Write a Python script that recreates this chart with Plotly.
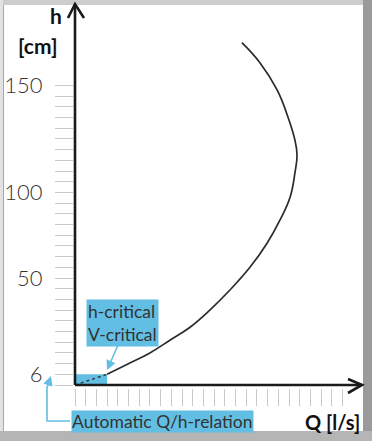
import plotly.graph_objects as go

# ---- data (grid units: one tick step per unit) ----
Q_curve = [3.0, 4.9, 7.0, 8.9, 10.75, 12.6, 14.5, 16.35, 17.95, 19.15, 20.1, 20.55,
           20.75, 20.55, 19.9, 18.9, 17.3, 15.6]
h_curve = [1.0, 1.95, 3.0, 4.2, 5.4, 7.0, 8.9, 11.0, 13.25, 15.4, 17.55, 19.8,
           21.5, 22.9, 25.05, 27.55, 30.1, 32.0]

h_tick_pos = list(range(0, 29))
h_tick_labels = {1: "6", 10: "50", 18: "100", 28: "150"}
Q_tick_pos = list(range(0, 26))

crit_Q = [0, 3]
crit_h = [0, 1]

W, H = 372, 441
OX, OY, U = 75.0, 385.0, 10.7   # pixel origin and pixels per unit


def X(px):
    return (px - OX) / U


def Y(py):
    return (OY - py) / U


def PX(px):
    return px / W


def PY(py):
    return 1 - py / H


BLUE = "#62bfe3"
TICKC = "#c9c9c9"

fig = go.Figure()

# critical zone box
fig.add_shape(type="rect", x0=crit_Q[0], x1=crit_Q[1], y0=crit_h[0], y1=crit_h[1],
              fillcolor=BLUE, line=dict(width=0), layer="below")
# dotted automatic relation
fig.add_trace(go.Scatter(x=crit_Q, y=crit_h, mode="lines",
                         line=dict(color="#333333", width=1.4, dash="dot"),
                         hoverinfo="skip", showlegend=False))
# Q/h curve
fig.add_trace(go.Scatter(x=Q_curve, y=h_curve, mode="lines",
                         line=dict(color="#2b2b2b", width=1.7, shape="spline", smoothing=1.2),
                         hoverinfo="skip", showlegend=False))

# axes as arrows
AX = dict(color="#1a1a1a", width=2.6)
fig.add_shape(type="line", x0=0, y0=0, x1=0, y1=Y(4), line=AX)
fig.add_shape(type="line", x0=0, y0=0, x1=X(362), y1=0, line=AX)
fig.add_shape(type="path",
              path=f"M {X(68)},{Y(18)} L 0,{Y(4)} L {X(84)},{Y(18)}",
              line=AX)
fig.add_shape(type="path",
              path=f"M {X(348)},{Y(379)} L {X(362)},0 L {X(348)},{Y(393)}",
              line=AX)

# blue connector for "Automatic Q/h-relation"
fig.add_shape(type="path",
              path=f"M {X(70)},{Y(421)} L {X(47)},{Y(421)} L {X(47)},{Y(386)}",
              line=dict(color=BLUE, width=1.6))
fig.add_annotation(x=X(51), y=Y(376), ax=X(47), ay=Y(388), axref="x", ayref="y",
                   xref="x", yref="y", text="", showarrow=True, arrowhead=2,
                   arrowsize=1.2, arrowwidth=1.6, arrowcolor=BLUE)
# blue arrow for h-critical box
fig.add_annotation(x=X(107), y=Y(370), ax=X(119), ay=Y(343), axref="x", ayref="y",
                   xref="x", yref="y", text="", showarrow=True, arrowhead=2,
                   arrowsize=1.2, arrowwidth=1.6, arrowcolor=BLUE)

LABF = dict(family="Lato", size=17.5, color="#333333")
fig.add_annotation(x=PX(122), y=PY(323), xref="paper", yref="paper",
                   text="h-critical<br>V-critical", showarrow=False, align="left",
                   bgcolor=BLUE, borderpad=1, font=LABF, xanchor="center", yanchor="middle")
fig.add_annotation(x=PX(162), y=PY(421.5), xref="paper", yref="paper",
                   text="Automatic Q/h-relation", showarrow=False,
                   bgcolor=BLUE, borderpad=0, font=LABF, xanchor="center", yanchor="middle")

BOLD = dict(family="Lato", size=21, color="#111111", weight="bold")
fig.add_annotation(x=PX(56), y=PY(15), xref="paper", yref="paper", text="h",
                   showarrow=False, font=BOLD, xanchor="center", yanchor="middle")
fig.add_annotation(x=PX(38), y=PY(45), xref="paper", yref="paper", text="[cm]",
                   showarrow=False, font=BOLD, xanchor="center", yanchor="middle")
fig.add_annotation(x=PX(332), y=PY(422), xref="paper", yref="paper", text="Q [l/s]",
                   showarrow=False, font=dict(family="Lato", size=20, color="#111111", weight="bold"),
                   xanchor="center", yanchor="middle")

# frame
fig.add_shape(type="rect", xref="paper", yref="paper", x0=0, x1=1, y0=PY(5), y1=1,
              fillcolor="#cdcdcd", line=dict(width=0), layer="below")
fig.add_shape(type="rect", xref="paper", yref="paper", x0=0, x1=PX(3), y0=0, y1=1,
              fillcolor="#e2e2e2", line=dict(width=0), layer="below")
fig.add_shape(type="line", xref="paper", yref="paper", x0=PX(3.5), x1=PX(3.5), y0=PY(431), y1=PY(5),
              line=dict(color="#a8a8a8", width=1), layer="below")
fig.add_shape(type="rect", xref="paper", yref="paper", x0=PX(363), x1=1, y0=0, y1=1,
              fillcolor="#9a9a9a", line=dict(width=0), layer="below")
fig.add_shape(type="rect", xref="paper", yref="paper", x0=0, x1=1, y0=0, y1=PY(431),
              fillcolor="#b5b5b5", line=dict(width=0), layer="below")

fig.update_layout(
    template="none",
    width=W, height=H, autosize=False,
    margin=dict(l=0, r=0, t=0, b=0, pad=0),
    paper_bgcolor="white", plot_bgcolor="rgba(0,0,0,0)",
    showlegend=False,
    xaxis=dict(range=[X(0), X(W)], showgrid=False, zeroline=False, showline=False,
               automargin=False,
               tickmode="array", tickvals=Q_tick_pos, ticktext=[""] * len(Q_tick_pos),
               ticks="outside", ticklen=17, tickwidth=1, tickcolor=TICKC,
               anchor="free", position=PY(388), fixedrange=True),
    yaxis=dict(range=[Y(H), Y(0)], showgrid=False, zeroline=False, showline=False,
               automargin=False,
               tickmode="array", tickvals=h_tick_pos,
               ticktext=[h_tick_labels.get(v, "") for v in h_tick_pos],
               ticks="outside", ticklen=18, tickwidth=1, tickcolor=TICKC,
               tickfont=dict(family="Lato", size=22, color="#333333", weight=300),
               ticklabelstandoff=8,
               anchor="free", position=PX(73), fixedrange=True),
)

fig.write_html("out.html", config={"displayModeBar": False},
               post_script="document.body.style.margin='0';document.body.style.overflow='hidden';")
